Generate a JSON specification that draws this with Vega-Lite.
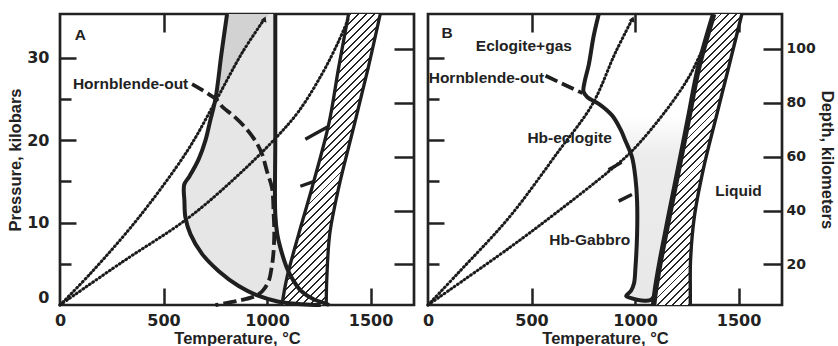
{
  "$schema": "https://vega.github.io/schema/vega-lite/v6.json",
  "padding": {"left": 6, "top": 1, "right": 0, "bottom": 0},
  "bounds": "flush",
  "spacing": 14,
  "background": "white",
  "config": {
    "view": {"stroke": "#222", "strokeWidth": 2.7},
    "axis": {
      "domain": false, "grid": false,
      "labelFont": "DejaVu Sans", "labelFontWeight": "bold", "labelFontSize": 16, "labelColor": "#222",
      "titleFont": "Liberation Sans", "titleFontWeight": "bold", "titleFontSize": 16.5, "titleColor": "#222",
      "tickColor": "#222", "tickWidth": 2.5, "format": "d"
    }
  },
  "datasets": {
    "shade": [
      {"pn":"A","P":0,"L":1260,"R":1300},{"pn":"A","P":0.15,"L":1150,"R":1285},{"pn":"A","P":0.4,"L":1056,"R":1258},
      {"pn":"A","P":0.7,"L":1015,"R":1225},{"pn":"A","P":1.1,"L":960,"R":1201},{"pn":"A","P":1.7,"L":911,"R":1165},
      {"pn":"A","P":2.3,"L":863,"R":1147},{"pn":"A","P":2.9,"L":831,"R":1129},{"pn":"A","P":4.1,"L":767,"R":1104},
      {"pn":"A","P":4.5,"L":751,"R":1096},{"pn":"A","P":6.2,"L":686,"R":1074},{"pn":"A","P":6.9,"L":670,"R":1065},
      {"pn":"A","P":8.6,"L":630,"R":1050},{"pn":"A","P":10.6,"L":606,"R":1041},{"pn":"A","P":11,"L":605,"R":1040},
      {"pn":"A","P":12.6,"L":601,"R":1040},{"pn":"A","P":14.6,"L":600,"R":1040},{"pn":"A","P":15.6,"L":625,"R":1040},
      {"pn":"A","P":17.7,"L":670,"R":1040},{"pn":"A","P":20,"L":703,"R":1040},{"pn":"A","P":22.3,"L":725,"R":1040},
      {"pn":"A","P":25,"L":751,"R":1040},{"pn":"A","P":30.5,"L":780,"R":1040},{"pn":"A","P":35.3,"L":807,"R":1040},
      {"pn":"B","P":0.55,"L":1030,"R":1092},{"pn":"B","P":0.8,"L":985,"R":1094},{"pn":"B","P":1.1,"L":957,"R":1096},
      {"pn":"B","P":1.7,"L":980,"R":1098},{"pn":"B","P":2.6,"L":995,"R":1105},{"pn":"B","P":4.5,"L":1002,"R":1117},
      {"pn":"B","P":8.6,"L":1010,"R":1148},{"pn":"B","P":12.6,"L":1010,"R":1179},{"pn":"B","P":15.4,"L":1002,"R":1201},
      {"pn":"B","P":17.9,"L":986,"R":1221},{"pn":"B","P":19.9,"L":954,"R":1237},{"pn":"B","P":21.3,"L":930,"R":1248},
      {"pn":"B","P":23.0,"L":889,"R":1262}
    ],
    "shadeDark": [
      {"pn":"A","P":24.8,"L":751,"R":751},{"pn":"A","P":27,"L":762,"R":804},
      {"pn":"A","P":30.5,"L":780,"R":885},{"pn":"A","P":35.3,"L":807,"R":1010}
    ],
    "band": [
      {"pn":"A","P":0,"L":1072,"R":1286},{"pn":"A","P":3.3,"L":1096,"R":1289},{"pn":"A","P":8.6,"L":1153,"R":1303},
      {"pn":"A","P":14.2,"L":1217,"R":1346},{"pn":"A","P":21.9,"L":1298,"R":1422},{"pn":"A","P":28.8,"L":1346,"R":1489},
      {"pn":"A","P":35.3,"L":1394,"R":1547},
      {"pn":"B","P":0,"L":1090,"R":1267},{"pn":"B","P":1.7,"L":1098,"R":1267},{"pn":"B","P":5.3,"L":1122,"R":1268},
      {"pn":"B","P":10.6,"L":1163,"R":1286},{"pn":"B","P":16.6,"L":1211,"R":1331},{"pn":"B","P":22.7,"L":1259,"R":1391},
      {"pn":"B","P":28.8,"L":1307,"R":1452},{"pn":"B","P":35.3,"L":1380,"R":1516}
    ],
    "solid": [
      {"pn":"A","id":"sol","s":1,"T":807,"P":35.3},{"pn":"A","id":"sol","s":2,"T":780,"P":30.5},
      {"pn":"A","id":"sol","s":3,"T":751,"P":25},{"pn":"A","id":"sol","s":4,"T":725,"P":22.3},
      {"pn":"A","id":"sol","s":5,"T":703,"P":20},{"pn":"A","id":"sol","s":6,"T":670,"P":17.7},
      {"pn":"A","id":"sol","s":7,"T":625,"P":15.6},{"pn":"A","id":"sol","s":8,"T":600,"P":14.6},
      {"pn":"A","id":"sol","s":9,"T":601,"P":12.6},{"pn":"A","id":"sol","s":10,"T":606,"P":10.6},
      {"pn":"A","id":"sol","s":11,"T":630,"P":8.6},{"pn":"A","id":"sol","s":12,"T":686,"P":6.2},
      {"pn":"A","id":"sol","s":13,"T":767,"P":4.1},{"pn":"A","id":"sol","s":14,"T":863,"P":2.3},
      {"pn":"A","id":"sol","s":15,"T":960,"P":1.1},{"pn":"A","id":"sol","s":16,"T":1056,"P":0.4},
      {"pn":"A","id":"sol","s":17,"T":1170,"P":0.1},{"pn":"A","id":"sol","s":18,"T":1260,"P":0},
      {"pn":"A","id":"vert","s":1,"T":1040,"P":35.3},{"pn":"A","id":"vert","s":2,"T":1040,"P":20},
      {"pn":"A","id":"vert","s":3,"T":1040,"P":11},{"pn":"A","id":"vert","s":4,"T":1050,"P":8.5},
      {"pn":"A","id":"vert","s":5,"T":1065,"P":6.9},{"pn":"A","id":"vert","s":6,"T":1096,"P":4.5},
      {"pn":"A","id":"vert","s":7,"T":1129,"P":2.9},{"pn":"A","id":"vert","s":8,"T":1165,"P":1.7},
      {"pn":"A","id":"vert","s":9,"T":1225,"P":0.7},{"pn":"A","id":"vert","s":10,"T":1285,"P":0.15},
      {"pn":"A","id":"vert","s":11,"T":1300,"P":0},
      {"pn":"A","id":"bl","s":1,"T":1394,"P":35.3},{"pn":"A","id":"bl","s":2,"T":1346,"P":28.8},
      {"pn":"A","id":"bl","s":3,"T":1298,"P":21.9},{"pn":"A","id":"bl","s":4,"T":1217,"P":14.2},
      {"pn":"A","id":"bl","s":5,"T":1153,"P":8.6},{"pn":"A","id":"bl","s":6,"T":1096,"P":3.3},
      {"pn":"A","id":"bl","s":7,"T":1072,"P":0},
      {"pn":"A","id":"br","s":1,"T":1547,"P":35.3},{"pn":"A","id":"br","s":2,"T":1489,"P":28.8},
      {"pn":"A","id":"br","s":3,"T":1422,"P":21.9},{"pn":"A","id":"br","s":4,"T":1346,"P":14.2},
      {"pn":"A","id":"br","s":5,"T":1303,"P":8.6},{"pn":"A","id":"br","s":6,"T":1289,"P":3.3},
      {"pn":"A","id":"br","s":7,"T":1286,"P":0},
      {"pn":"A","id":"t1","s":1,"T":1185,"P":20.1},{"pn":"A","id":"t1","s":2,"T":1292,"P":21.6},
      {"pn":"A","id":"t2","s":1,"T":1161,"P":14.4},{"pn":"A","id":"t2","s":2,"T":1228,"P":15.0},
      {"pn":"B","id":"sol","s":1,"T":825,"P":35.3},{"pn":"B","id":"sol","s":2,"T":800,"P":32.6},
      {"pn":"B","id":"sol","s":3,"T":777,"P":29.2},{"pn":"B","id":"sol","s":4,"T":756,"P":27.0},
      {"pn":"B","id":"sol","s":5,"T":751,"P":25.9},{"pn":"B","id":"sol","s":6,"T":770,"P":25.2},
      {"pn":"B","id":"sol","s":7,"T":825,"P":24.4},{"pn":"B","id":"sol","s":8,"T":889,"P":23.0},
      {"pn":"B","id":"sol","s":9,"T":930,"P":21.3},{"pn":"B","id":"sol","s":10,"T":954,"P":19.9},
      {"pn":"B","id":"sol","s":11,"T":986,"P":17.9},{"pn":"B","id":"sol","s":12,"T":1002,"P":15.4},
      {"pn":"B","id":"sol","s":13,"T":1010,"P":12.6},{"pn":"B","id":"sol","s":14,"T":1010,"P":8.6},
      {"pn":"B","id":"sol","s":15,"T":1002,"P":4.5},{"pn":"B","id":"sol","s":16,"T":995,"P":2.6},
      {"pn":"B","id":"sol","s":17,"T":980,"P":1.7},{"pn":"B","id":"sol","s":18,"T":957,"P":1.1},
      {"pn":"B","id":"sol","s":19,"T":985,"P":0.8},{"pn":"B","id":"sol","s":20,"T":1030,"P":0.55},
      {"pn":"B","id":"sol","s":21,"T":1075,"P":0.6},{"pn":"B","id":"sol","s":22,"T":1095,"P":1.2},
      {"pn":"B","id":"blw","s":1,"T":1380,"P":35.3},{"pn":"B","id":"blw","s":2,"T":1307,"P":28.8},
      {"pn":"B","id":"blw","s":3,"T":1259,"P":22.7},{"pn":"B","id":"blw","s":4,"T":1211,"P":16.6},
      {"pn":"B","id":"blw","s":5,"T":1163,"P":10.6},{"pn":"B","id":"blw","s":6,"T":1122,"P":5.3},
      {"pn":"B","id":"blw","s":7,"T":1098,"P":1.7},{"pn":"B","id":"blw","s":8,"T":1090,"P":0},
      {"pn":"B","id":"br","s":1,"T":1516,"P":35.3},{"pn":"B","id":"br","s":2,"T":1452,"P":28.8},
      {"pn":"B","id":"br","s":3,"T":1391,"P":22.7},{"pn":"B","id":"br","s":4,"T":1331,"P":16.6},
      {"pn":"B","id":"br","s":5,"T":1286,"P":10.6},{"pn":"B","id":"br","s":6,"T":1268,"P":5.3},
      {"pn":"B","id":"br","s":7,"T":1267,"P":1.7},{"pn":"B","id":"br","s":8,"T":1267,"P":0},
      {"pn":"B","id":"t3","s":1,"T":921,"P":12.6},{"pn":"B","id":"t3","s":2,"T":985,"P":13.4},
      {"pn":"B","id":"t4","s":1,"T":872,"P":16.4},{"pn":"B","id":"t4","s":2,"T":935,"P":17.3}
    ],
    "dash": [
      {"pn":"A","id":"hbo","s":1,"T":638,"P":26.8},{"pn":"A","id":"hbo","s":2,"T":751,"P":25.0},
      {"pn":"A","id":"hbo","s":3,"T":790,"P":23.9},{"pn":"A","id":"hbo","s":4,"T":831,"P":23.1},
      {"pn":"A","id":"hbo","s":5,"T":896,"P":21.5},{"pn":"A","id":"hbo","s":6,"T":944,"P":19.9},
      {"pn":"A","id":"hbo","s":7,"T":976,"P":18.3},{"pn":"A","id":"hbo","s":8,"T":1000,"P":16.2},
      {"pn":"A","id":"hbo","s":9,"T":1024,"P":14.2},{"pn":"A","id":"hbo","s":10,"T":1032,"P":11},
      {"pn":"A","id":"hbo","s":11,"T":1035,"P":8.6},{"pn":"A","id":"hbo","s":12,"T":1030,"P":6},
      {"pn":"A","id":"hbo","s":13,"T":1022,"P":4.5},{"pn":"A","id":"hbo","s":14,"T":1008,"P":2.9},
      {"pn":"A","id":"hbo","s":15,"T":978,"P":1.7},{"pn":"A","id":"hbo","s":16,"T":944,"P":1.1},
      {"pn":"A","id":"hbo","s":17,"T":860,"P":0.5},{"pn":"A","id":"hbo","s":18,"T":751,"P":0},
      {"pn":"B","id":"hbo","s":1,"T":568,"P":27.8},{"pn":"B","id":"hbo","s":2,"T":746,"P":25.7}
    ],
    "dot": [
      {"pn":"A","id":"g1","s":1,"T":0,"P":0},{"pn":"A","id":"g1","s":2,"T":150,"P":3.9},
      {"pn":"A","id":"g1","s":3,"T":380,"P":10.6},{"pn":"A","id":"g1","s":4,"T":615,"P":18.7},
      {"pn":"A","id":"g1","s":5,"T":751,"P":24.7},{"pn":"A","id":"g1","s":6,"T":880,"P":30.6},
      {"pn":"A","id":"g1","s":7,"T":985,"P":34.6},
      {"pn":"A","id":"g2","s":1,"T":0,"P":0},{"pn":"A","id":"g2","s":2,"T":300,"P":5.2},
      {"pn":"A","id":"g2","s":3,"T":622,"P":10.6},{"pn":"A","id":"g2","s":4,"T":850,"P":15.5},
      {"pn":"A","id":"g2","s":5,"T":1040,"P":20.2},{"pn":"A","id":"g2","s":6,"T":1153,"P":23.5},
      {"pn":"A","id":"g2","s":7,"T":1265,"P":28},{"pn":"A","id":"g2","s":8,"T":1346,"P":32},
      {"pn":"A","id":"g2","s":9,"T":1394,"P":34.8},
      {"pn":"B","id":"g1","s":1,"T":0,"P":0},{"pn":"B","id":"g1","s":2,"T":150,"P":4.0},
      {"pn":"B","id":"g1","s":3,"T":391,"P":10.6},{"pn":"B","id":"g1","s":4,"T":632,"P":18.7},
      {"pn":"B","id":"g1","s":5,"T":793,"P":24.3},{"pn":"B","id":"g1","s":6,"T":905,"P":30.6},
      {"pn":"B","id":"g1","s":7,"T":985,"P":34.6},
      {"pn":"B","id":"g2","s":1,"T":0,"P":0},{"pn":"B","id":"g2","s":2,"T":391,"P":6.9},
      {"pn":"B","id":"g2","s":3,"T":620,"P":11.2},{"pn":"B","id":"g2","s":4,"T":873,"P":16.2},
      {"pn":"B","id":"g2","s":5,"T":986,"P":18.7},{"pn":"B","id":"g2","s":6,"T":1147,"P":23.5},
      {"pn":"B","id":"g2","s":7,"T":1259,"P":27.6},{"pn":"B","id":"g2","s":8,"T":1323,"P":30.8},
      {"pn":"B","id":"g2","s":9,"T":1340,"P":31.6}
    ],
    "arrows": [
      {"pn":"A","T":988,"P":34.7},{"pn":"B","T":988,"P":34.7}
    ],
    "labels": [
      {"pn":"A","T":98,"P":32.8,"txt":"A"},
      {"pn":"A","T":341,"P":26.8,"txt":"Hornblende-out"},
      {"pn":"B","T":92,"P":33.0,"txt":"B"},
      {"pn":"B","T":463,"P":31.4,"txt":"Eclogite+gas"},
      {"pn":"B","T":282,"P":27.55,"txt":"Hornblende-out"},
      {"pn":"B","T":684,"P":20.3,"txt":"Hb-eclogite"},
      {"pn":"B","T":1500,"P":13.8,"txt":"Liquid"},
      {"pn":"B","T":781,"P":7.85,"txt":"Hb-Gabbro"}
    ],
    "depth": [
      {"T":0,"depth":20},{"T":0,"depth":40},{"T":0,"depth":60},{"T":0,"depth":80},{"T":0,"depth":100}
    ]
  },
  "hconcat": [
    {
      "width": 354, "height": 291,
      "resolve": {"scale": {"y": "independent"}, "axis": {"x": "independent", "y": "independent"}},
      "layer": [
        {
          "data": {"name": "shade"},
          "transform": [{"filter": "datum.pn === 'A'"}],
          "mark": {"type": "area", "orient": "horizontal", "color": "#e6e6e6", "opacity": 1},
          "encoding": {
            "y": {"field": "P", "type": "quantitative", "scale": {"domain": [0, 35.3], "nice": false, "zero": false},
                  "axis": {"orient": "left", "values": [0, 10, 20, 30], "ticks": false, "labelPadding": 11, "labelFlush": true, "title": "Pressure, kilobars", "titlePadding": 3}},
            "x": {"field": "L", "type": "quantitative", "scale": {"domain": [0, 1710], "nice": false, "zero": false},
                  "axis": {"orient": "bottom", "values": [0, 500, 1000, 1500], "ticks": false, "labelPadding": 7, "labelFlush": false, "title": "Temperature, °C", "titlePadding": 2}},
            "x2": {"field": "R"}
          }
        },
        {
          "data": {"name": "shadeDark"},
          "mark": {"type": "area", "orient": "horizontal", "color": "#d2d2d2", "opacity": 1},
          "encoding": {
            "y": {"field": "P", "type": "quantitative", "scale": {"domain": [0, 35.3], "nice": false, "zero": false},
                  "axis": {"orient": "left", "values": [5, 10, 15, 20, 25, 30], "labels": false, "title": null, "minExtent": 0, "maxExtent": 0,
                           "tickSize": {"condition": {"test": "datum.value % 10 === 0", "value": -16}, "value": -11}}},
            "x": {"field": "L", "type": "quantitative", "scale": {"domain": [0, 1710], "nice": false, "zero": false},
                  "axis": {"orient": "top", "values": [500, 1000, 1500], "labels": false, "title": null, "tickSize": -18, "minExtent": 0, "maxExtent": 0}},
            "x2": {"field": "R"}
          }
        },
        {
          "data": {"name": "band"},
          "transform": [{"filter": "datum.pn === 'A'"}],
          "mark": {"type": "area", "orient": "horizontal", "interpolate": "catmull-rom", "opacity": 1, "stroke": null,
            "fill": {
              "gradient": "linear", "x1": 0, "y1": 0, "x2": 0.406, "y2": 1.201,
              "stops": [
                {"offset":0,"color":"#fff"},{"offset":0.015,"color":"#fff"},{"offset":0.015,"color":"#262626"},{"offset":0.02,"color":"#262626"},
                {"offset":0.02,"color":"#fff"},{"offset":0.035,"color":"#fff"},{"offset":0.035,"color":"#262626"},{"offset":0.04,"color":"#262626"},
                {"offset":0.04,"color":"#fff"},{"offset":0.055,"color":"#fff"},{"offset":0.055,"color":"#262626"},{"offset":0.06,"color":"#262626"},
                {"offset":0.06,"color":"#fff"},{"offset":0.075,"color":"#fff"},{"offset":0.075,"color":"#262626"},{"offset":0.08,"color":"#262626"},
                {"offset":0.08,"color":"#fff"},{"offset":0.095,"color":"#fff"},{"offset":0.095,"color":"#262626"},{"offset":0.1,"color":"#262626"},
                {"offset":0.1,"color":"#fff"},{"offset":0.115,"color":"#fff"},{"offset":0.115,"color":"#262626"},{"offset":0.12,"color":"#262626"},
                {"offset":0.12,"color":"#fff"},{"offset":0.135,"color":"#fff"},{"offset":0.135,"color":"#262626"},{"offset":0.14,"color":"#262626"},
                {"offset":0.14,"color":"#fff"},{"offset":0.155,"color":"#fff"},{"offset":0.155,"color":"#262626"},{"offset":0.16,"color":"#262626"},
                {"offset":0.16,"color":"#fff"},{"offset":0.175,"color":"#fff"},{"offset":0.175,"color":"#262626"},{"offset":0.18,"color":"#262626"},
                {"offset":0.18,"color":"#fff"},{"offset":0.195,"color":"#fff"},{"offset":0.195,"color":"#262626"},{"offset":0.2,"color":"#262626"},
                {"offset":0.2,"color":"#fff"},{"offset":0.215,"color":"#fff"},{"offset":0.215,"color":"#262626"},{"offset":0.22,"color":"#262626"},
                {"offset":0.22,"color":"#fff"},{"offset":0.235,"color":"#fff"},{"offset":0.235,"color":"#262626"},{"offset":0.24,"color":"#262626"},
                {"offset":0.24,"color":"#fff"},{"offset":0.255,"color":"#fff"},{"offset":0.255,"color":"#262626"},{"offset":0.26,"color":"#262626"},
                {"offset":0.26,"color":"#fff"},{"offset":0.275,"color":"#fff"},{"offset":0.275,"color":"#262626"},{"offset":0.28,"color":"#262626"},
                {"offset":0.28,"color":"#fff"},{"offset":0.295,"color":"#fff"},{"offset":0.295,"color":"#262626"},{"offset":0.3,"color":"#262626"},
                {"offset":0.3,"color":"#fff"},{"offset":0.315,"color":"#fff"},{"offset":0.315,"color":"#262626"},{"offset":0.32,"color":"#262626"},
                {"offset":0.32,"color":"#fff"},{"offset":0.335,"color":"#fff"},{"offset":0.335,"color":"#262626"},{"offset":0.34,"color":"#262626"},
                {"offset":0.34,"color":"#fff"},{"offset":0.355,"color":"#fff"},{"offset":0.355,"color":"#262626"},{"offset":0.36,"color":"#262626"},
                {"offset":0.36,"color":"#fff"},{"offset":0.375,"color":"#fff"},{"offset":0.375,"color":"#262626"},{"offset":0.38,"color":"#262626"},
                {"offset":0.38,"color":"#fff"},{"offset":0.395,"color":"#fff"},{"offset":0.395,"color":"#262626"},{"offset":0.4,"color":"#262626"},
                {"offset":0.4,"color":"#fff"},{"offset":0.415,"color":"#fff"},{"offset":0.415,"color":"#262626"},{"offset":0.42,"color":"#262626"},
                {"offset":0.42,"color":"#fff"},{"offset":0.435,"color":"#fff"},{"offset":0.435,"color":"#262626"},{"offset":0.44,"color":"#262626"},
                {"offset":0.44,"color":"#fff"},{"offset":0.455,"color":"#fff"},{"offset":0.455,"color":"#262626"},{"offset":0.46,"color":"#262626"},
                {"offset":0.46,"color":"#fff"},{"offset":0.475,"color":"#fff"},{"offset":0.475,"color":"#262626"},{"offset":0.48,"color":"#262626"},
                {"offset":0.48,"color":"#fff"},{"offset":0.495,"color":"#fff"},{"offset":0.495,"color":"#262626"},{"offset":0.5,"color":"#262626"},
                {"offset":0.5,"color":"#fff"},{"offset":0.515,"color":"#fff"},{"offset":0.515,"color":"#262626"},{"offset":0.52,"color":"#262626"},
                {"offset":0.52,"color":"#fff"},{"offset":0.535,"color":"#fff"},{"offset":0.535,"color":"#262626"},{"offset":0.54,"color":"#262626"},
                {"offset":0.54,"color":"#fff"},{"offset":0.555,"color":"#fff"},{"offset":0.555,"color":"#262626"},{"offset":0.56,"color":"#262626"},
                {"offset":0.56,"color":"#fff"},{"offset":0.575,"color":"#fff"},{"offset":0.575,"color":"#262626"},{"offset":0.58,"color":"#262626"},
                {"offset":0.58,"color":"#fff"},{"offset":0.595,"color":"#fff"},{"offset":0.595,"color":"#262626"},{"offset":0.6,"color":"#262626"},
                {"offset":0.6,"color":"#fff"},{"offset":0.615,"color":"#fff"},{"offset":0.615,"color":"#262626"},{"offset":0.62,"color":"#262626"},
                {"offset":0.62,"color":"#fff"},{"offset":0.635,"color":"#fff"},{"offset":0.635,"color":"#262626"},{"offset":0.64,"color":"#262626"},
                {"offset":0.64,"color":"#fff"},{"offset":0.655,"color":"#fff"},{"offset":0.655,"color":"#262626"},{"offset":0.66,"color":"#262626"},
                {"offset":0.66,"color":"#fff"},{"offset":0.675,"color":"#fff"},{"offset":0.675,"color":"#262626"},{"offset":0.68,"color":"#262626"},
                {"offset":0.68,"color":"#fff"},{"offset":0.695,"color":"#fff"},{"offset":0.695,"color":"#262626"},{"offset":0.7,"color":"#262626"},
                {"offset":0.7,"color":"#fff"},{"offset":0.715,"color":"#fff"},{"offset":0.715,"color":"#262626"},{"offset":0.72,"color":"#262626"},
                {"offset":0.72,"color":"#fff"},{"offset":0.735,"color":"#fff"},{"offset":0.735,"color":"#262626"},{"offset":0.74,"color":"#262626"},
                {"offset":0.74,"color":"#fff"},{"offset":0.755,"color":"#fff"},{"offset":0.755,"color":"#262626"},{"offset":0.76,"color":"#262626"},
                {"offset":0.76,"color":"#fff"},{"offset":0.775,"color":"#fff"},{"offset":0.775,"color":"#262626"},{"offset":0.78,"color":"#262626"},
                {"offset":0.78,"color":"#fff"},{"offset":0.795,"color":"#fff"},{"offset":0.795,"color":"#262626"},{"offset":0.8,"color":"#262626"},
                {"offset":0.8,"color":"#fff"},{"offset":0.815,"color":"#fff"},{"offset":0.815,"color":"#262626"},{"offset":0.82,"color":"#262626"},
                {"offset":0.82,"color":"#fff"},{"offset":0.835,"color":"#fff"},{"offset":0.835,"color":"#262626"},{"offset":0.84,"color":"#262626"},
                {"offset":0.84,"color":"#fff"},{"offset":0.855,"color":"#fff"},{"offset":0.855,"color":"#262626"},{"offset":0.86,"color":"#262626"},
                {"offset":0.86,"color":"#fff"},{"offset":0.875,"color":"#fff"},{"offset":0.875,"color":"#262626"},{"offset":0.88,"color":"#262626"},
                {"offset":0.88,"color":"#fff"},{"offset":0.895,"color":"#fff"},{"offset":0.895,"color":"#262626"},{"offset":0.9,"color":"#262626"},
                {"offset":0.9,"color":"#fff"},{"offset":0.915,"color":"#fff"},{"offset":0.915,"color":"#262626"},{"offset":0.92,"color":"#262626"},
                {"offset":0.92,"color":"#fff"},{"offset":0.935,"color":"#fff"},{"offset":0.935,"color":"#262626"},{"offset":0.94,"color":"#262626"},
                {"offset":0.94,"color":"#fff"},{"offset":0.955,"color":"#fff"},{"offset":0.955,"color":"#262626"},{"offset":0.96,"color":"#262626"},
                {"offset":0.96,"color":"#fff"},{"offset":0.975,"color":"#fff"},{"offset":0.975,"color":"#262626"},{"offset":0.98,"color":"#262626"},
                {"offset":0.98,"color":"#fff"},{"offset":0.995,"color":"#fff"},{"offset":0.995,"color":"#262626"},{"offset":1,"color":"#262626"}
              ]
            }
          },
          "encoding": {
            "y": {"field": "P", "type": "quantitative", "scale": {"domain": [0, 35.3], "nice": false, "zero": false}, "axis": null},
            "x": {"field": "L", "type": "quantitative", "scale": {"domain": [0, 1710], "nice": false, "zero": false},
                  "axis": {"orient": "bottom", "values": [500, 1000, 1500], "labels": false, "title": null, "tickSize": -17, "minExtent": 0, "maxExtent": 0}},
            "x2": {"field": "R"}
          }
        },
        {
          "data": {"name": "dot"},
          "transform": [{"filter": "datum.pn === 'A'"}],
          "mark": {"type": "line", "interpolate": "catmull-rom", "color": "#1a1a1a", "strokeWidth": 3, "strokeDash": [0.9, 3.1], "strokeCap": "round"},
          "encoding": {
            "x": {"field": "T", "type": "quantitative", "scale": {"domain": [0, 1710], "nice": false, "zero": false}, "axis": null},
            "y": {"field": "P", "type": "quantitative", "scale": {"domain": [0, 35.3], "nice": false, "zero": false}, "axis": null},
            "detail": {"field": "id"},
            "order": {"field": "s", "type": "quantitative"}
          }
        },
        {
          "data": {"name": "solid"},
          "transform": [{"filter": "datum.pn === 'A' && (datum.id === 'sol' || datum.id === 'vert')"}],
          "mark": {"type": "line", "interpolate": "catmull-rom", "color": "#1f1f1f", "strokeWidth": 4, "strokeCap": "butt"},
          "encoding": {
            "x": {"field": "T", "type": "quantitative", "scale": {"domain": [0, 1710], "nice": false, "zero": false}, "axis": null},
            "y": {"field": "P", "type": "quantitative", "scale": {"domain": [0, 35.3], "nice": false, "zero": false}, "axis": null},
            "detail": {"field": "id"},
            "order": {"field": "s", "type": "quantitative"}
          }
        },
        {
          "data": {"name": "solid"},
          "transform": [{"filter": "datum.pn === 'A' && datum.id !== 'sol' && datum.id !== 'vert'"}],
          "mark": {"type": "line", "interpolate": "catmull-rom", "color": "#1f1f1f", "strokeWidth": 3.3, "strokeCap": "butt"},
          "encoding": {
            "x": {"field": "T", "type": "quantitative", "scale": {"domain": [0, 1710], "nice": false, "zero": false}, "axis": null},
            "y": {"field": "P", "type": "quantitative", "scale": {"domain": [0, 35.3], "nice": false, "zero": false}, "axis": null},
            "detail": {"field": "id"},
            "order": {"field": "s", "type": "quantitative"}
          }
        },
        {
          "data": {"name": "dash"},
          "transform": [{"filter": "datum.pn === 'A'"}],
          "mark": {"type": "line", "interpolate": "catmull-rom", "color": "#1f1f1f", "strokeWidth": 3.8, "strokeDash": [13, 5]},
          "encoding": {
            "x": {"field": "T", "type": "quantitative", "scale": {"domain": [0, 1710], "nice": false, "zero": false}, "axis": null},
            "y": {"field": "P", "type": "quantitative", "scale": {"domain": [0, 35.3], "nice": false, "zero": false}, "axis": null},
            "detail": {"field": "id"},
            "order": {"field": "s", "type": "quantitative"}
          }
        },
        {
          "data": {"name": "arrows"},
          "transform": [{"filter": "datum.pn === 'A'"}],
          "mark": {"type": "point", "shape": "triangle-up", "filled": true, "size": 40, "angle": 22, "color": "#1f1f1f", "opacity": 1},
          "encoding": {
            "x": {"field": "T", "type": "quantitative", "scale": {"domain": [0, 1710], "nice": false, "zero": false}, "axis": null},
            "y": {"field": "P", "type": "quantitative", "scale": {"domain": [0, 35.3], "nice": false, "zero": false}, "axis": null}
          }
        },
        {
          "data": {"name": "labels"},
          "transform": [{"filter": "datum.pn === 'A'"}],
          "mark": {"type": "text", "font": "Liberation Sans", "fontWeight": "bold", "fontSize": 15.5, "color": "#222", "align": "center", "baseline": "middle"},
          "encoding": {
            "x": {"field": "T", "type": "quantitative", "scale": {"domain": [0, 1710], "nice": false, "zero": false}, "axis": null},
            "y": {"field": "P", "type": "quantitative", "scale": {"domain": [0, 35.3], "nice": false, "zero": false}, "axis": null},
            "text": {"field": "txt"}
          }
        },
        {
          "data": {"name": "depth"},
          "mark": {"type": "point", "opacity": 0},
          "encoding": {
            "x": {"field": "T", "type": "quantitative", "scale": {"domain": [0, 1710], "nice": false, "zero": false}, "axis": null},
            "y": {"field": "depth", "type": "quantitative", "scale": {"domain": [4.9, 113], "nice": false, "zero": false},
                  "axis": {"orient": "right", "values": [20, 40, 60, 80, 100], "labels": false, "title": null, "tickSize": -20, "minExtent": 0, "maxExtent": 0}}
          }
        }
      ]
    },
    {
      "width": 354, "height": 291,
      "resolve": {"scale": {"y": "independent"}, "axis": {"x": "independent", "y": "independent"}},
      "layer": [
        {
          "data": {"name": "shade"},
          "transform": [{"filter": "datum.pn === 'B'"}],
          "mark": {"type": "area", "orient": "horizontal", "opacity": 1,
            "fill": {"gradient": "linear", "x1": 0, "y1": 0, "x2": 0, "y2": 1,
                     "stops": [{"offset": 0, "color": "#ffffff"}, {"offset": 0.22, "color": "#ececec"}, {"offset": 1, "color": "#e8e8e8"}]}},
          "encoding": {
            "y": {"field": "P", "type": "quantitative", "scale": {"domain": [0, 35.3], "nice": false, "zero": false},
                  "axis": {"orient": "left", "values": [5, 10, 15, 20, 25, 30], "labels": false, "title": null, "minExtent": 0, "maxExtent": 0,
                           "tickSize": {"condition": {"test": "datum.value % 10 === 0", "value": -16}, "value": -11}}},
            "x": {"field": "L", "type": "quantitative", "scale": {"domain": [0, 1710], "nice": false, "zero": false},
                  "axis": {"orient": "bottom", "values": [0, 500, 1000, 1500], "ticks": false, "labelPadding": 7, "labelFlush": false, "title": "Temperature, °C", "titlePadding": 2}},
            "x2": {"field": "R"}
          }
        },
        {
          "data": {"name": "band"},
          "transform": [{"filter": "datum.pn === 'B'"}],
          "mark": {"type": "area", "orient": "horizontal", "interpolate": "catmull-rom", "opacity": 1, "stroke": null,
            "fill": {
              "gradient": "linear", "x1": 0, "y1": 0, "x2": 0.362, "y2": 1.194,
              "stops": [
                {"offset":0,"color":"#fff"},{"offset":0.015,"color":"#fff"},{"offset":0.015,"color":"#262626"},{"offset":0.02,"color":"#262626"},
                {"offset":0.02,"color":"#fff"},{"offset":0.035,"color":"#fff"},{"offset":0.035,"color":"#262626"},{"offset":0.04,"color":"#262626"},
                {"offset":0.04,"color":"#fff"},{"offset":0.055,"color":"#fff"},{"offset":0.055,"color":"#262626"},{"offset":0.06,"color":"#262626"},
                {"offset":0.06,"color":"#fff"},{"offset":0.075,"color":"#fff"},{"offset":0.075,"color":"#262626"},{"offset":0.08,"color":"#262626"},
                {"offset":0.08,"color":"#fff"},{"offset":0.095,"color":"#fff"},{"offset":0.095,"color":"#262626"},{"offset":0.1,"color":"#262626"},
                {"offset":0.1,"color":"#fff"},{"offset":0.115,"color":"#fff"},{"offset":0.115,"color":"#262626"},{"offset":0.12,"color":"#262626"},
                {"offset":0.12,"color":"#fff"},{"offset":0.135,"color":"#fff"},{"offset":0.135,"color":"#262626"},{"offset":0.14,"color":"#262626"},
                {"offset":0.14,"color":"#fff"},{"offset":0.155,"color":"#fff"},{"offset":0.155,"color":"#262626"},{"offset":0.16,"color":"#262626"},
                {"offset":0.16,"color":"#fff"},{"offset":0.175,"color":"#fff"},{"offset":0.175,"color":"#262626"},{"offset":0.18,"color":"#262626"},
                {"offset":0.18,"color":"#fff"},{"offset":0.195,"color":"#fff"},{"offset":0.195,"color":"#262626"},{"offset":0.2,"color":"#262626"},
                {"offset":0.2,"color":"#fff"},{"offset":0.215,"color":"#fff"},{"offset":0.215,"color":"#262626"},{"offset":0.22,"color":"#262626"},
                {"offset":0.22,"color":"#fff"},{"offset":0.235,"color":"#fff"},{"offset":0.235,"color":"#262626"},{"offset":0.24,"color":"#262626"},
                {"offset":0.24,"color":"#fff"},{"offset":0.255,"color":"#fff"},{"offset":0.255,"color":"#262626"},{"offset":0.26,"color":"#262626"},
                {"offset":0.26,"color":"#fff"},{"offset":0.275,"color":"#fff"},{"offset":0.275,"color":"#262626"},{"offset":0.28,"color":"#262626"},
                {"offset":0.28,"color":"#fff"},{"offset":0.295,"color":"#fff"},{"offset":0.295,"color":"#262626"},{"offset":0.3,"color":"#262626"},
                {"offset":0.3,"color":"#fff"},{"offset":0.315,"color":"#fff"},{"offset":0.315,"color":"#262626"},{"offset":0.32,"color":"#262626"},
                {"offset":0.32,"color":"#fff"},{"offset":0.335,"color":"#fff"},{"offset":0.335,"color":"#262626"},{"offset":0.34,"color":"#262626"},
                {"offset":0.34,"color":"#fff"},{"offset":0.355,"color":"#fff"},{"offset":0.355,"color":"#262626"},{"offset":0.36,"color":"#262626"},
                {"offset":0.36,"color":"#fff"},{"offset":0.375,"color":"#fff"},{"offset":0.375,"color":"#262626"},{"offset":0.38,"color":"#262626"},
                {"offset":0.38,"color":"#fff"},{"offset":0.395,"color":"#fff"},{"offset":0.395,"color":"#262626"},{"offset":0.4,"color":"#262626"},
                {"offset":0.4,"color":"#fff"},{"offset":0.415,"color":"#fff"},{"offset":0.415,"color":"#262626"},{"offset":0.42,"color":"#262626"},
                {"offset":0.42,"color":"#fff"},{"offset":0.435,"color":"#fff"},{"offset":0.435,"color":"#262626"},{"offset":0.44,"color":"#262626"},
                {"offset":0.44,"color":"#fff"},{"offset":0.455,"color":"#fff"},{"offset":0.455,"color":"#262626"},{"offset":0.46,"color":"#262626"},
                {"offset":0.46,"color":"#fff"},{"offset":0.475,"color":"#fff"},{"offset":0.475,"color":"#262626"},{"offset":0.48,"color":"#262626"},
                {"offset":0.48,"color":"#fff"},{"offset":0.495,"color":"#fff"},{"offset":0.495,"color":"#262626"},{"offset":0.5,"color":"#262626"},
                {"offset":0.5,"color":"#fff"},{"offset":0.515,"color":"#fff"},{"offset":0.515,"color":"#262626"},{"offset":0.52,"color":"#262626"},
                {"offset":0.52,"color":"#fff"},{"offset":0.535,"color":"#fff"},{"offset":0.535,"color":"#262626"},{"offset":0.54,"color":"#262626"},
                {"offset":0.54,"color":"#fff"},{"offset":0.555,"color":"#fff"},{"offset":0.555,"color":"#262626"},{"offset":0.56,"color":"#262626"},
                {"offset":0.56,"color":"#fff"},{"offset":0.575,"color":"#fff"},{"offset":0.575,"color":"#262626"},{"offset":0.58,"color":"#262626"},
                {"offset":0.58,"color":"#fff"},{"offset":0.595,"color":"#fff"},{"offset":0.595,"color":"#262626"},{"offset":0.6,"color":"#262626"},
                {"offset":0.6,"color":"#fff"},{"offset":0.615,"color":"#fff"},{"offset":0.615,"color":"#262626"},{"offset":0.62,"color":"#262626"},
                {"offset":0.62,"color":"#fff"},{"offset":0.635,"color":"#fff"},{"offset":0.635,"color":"#262626"},{"offset":0.64,"color":"#262626"},
                {"offset":0.64,"color":"#fff"},{"offset":0.655,"color":"#fff"},{"offset":0.655,"color":"#262626"},{"offset":0.66,"color":"#262626"},
                {"offset":0.66,"color":"#fff"},{"offset":0.675,"color":"#fff"},{"offset":0.675,"color":"#262626"},{"offset":0.68,"color":"#262626"},
                {"offset":0.68,"color":"#fff"},{"offset":0.695,"color":"#fff"},{"offset":0.695,"color":"#262626"},{"offset":0.7,"color":"#262626"},
                {"offset":0.7,"color":"#fff"},{"offset":0.715,"color":"#fff"},{"offset":0.715,"color":"#262626"},{"offset":0.72,"color":"#262626"},
                {"offset":0.72,"color":"#fff"},{"offset":0.735,"color":"#fff"},{"offset":0.735,"color":"#262626"},{"offset":0.74,"color":"#262626"},
                {"offset":0.74,"color":"#fff"},{"offset":0.755,"color":"#fff"},{"offset":0.755,"color":"#262626"},{"offset":0.76,"color":"#262626"},
                {"offset":0.76,"color":"#fff"},{"offset":0.775,"color":"#fff"},{"offset":0.775,"color":"#262626"},{"offset":0.78,"color":"#262626"},
                {"offset":0.78,"color":"#fff"},{"offset":0.795,"color":"#fff"},{"offset":0.795,"color":"#262626"},{"offset":0.8,"color":"#262626"},
                {"offset":0.8,"color":"#fff"},{"offset":0.815,"color":"#fff"},{"offset":0.815,"color":"#262626"},{"offset":0.82,"color":"#262626"},
                {"offset":0.82,"color":"#fff"},{"offset":0.835,"color":"#fff"},{"offset":0.835,"color":"#262626"},{"offset":0.84,"color":"#262626"},
                {"offset":0.84,"color":"#fff"},{"offset":0.855,"color":"#fff"},{"offset":0.855,"color":"#262626"},{"offset":0.86,"color":"#262626"},
                {"offset":0.86,"color":"#fff"},{"offset":0.875,"color":"#fff"},{"offset":0.875,"color":"#262626"},{"offset":0.88,"color":"#262626"},
                {"offset":0.88,"color":"#fff"},{"offset":0.895,"color":"#fff"},{"offset":0.895,"color":"#262626"},{"offset":0.9,"color":"#262626"},
                {"offset":0.9,"color":"#fff"},{"offset":0.915,"color":"#fff"},{"offset":0.915,"color":"#262626"},{"offset":0.92,"color":"#262626"},
                {"offset":0.92,"color":"#fff"},{"offset":0.935,"color":"#fff"},{"offset":0.935,"color":"#262626"},{"offset":0.94,"color":"#262626"},
                {"offset":0.94,"color":"#fff"},{"offset":0.955,"color":"#fff"},{"offset":0.955,"color":"#262626"},{"offset":0.96,"color":"#262626"},
                {"offset":0.96,"color":"#fff"},{"offset":0.975,"color":"#fff"},{"offset":0.975,"color":"#262626"},{"offset":0.98,"color":"#262626"},
                {"offset":0.98,"color":"#fff"},{"offset":0.995,"color":"#fff"},{"offset":0.995,"color":"#262626"},{"offset":1,"color":"#262626"}
              ]
            }
          },
          "encoding": {
            "y": {"field": "P", "type": "quantitative", "scale": {"domain": [0, 35.3], "nice": false, "zero": false}, "axis": null},
            "x": {"field": "L", "type": "quantitative", "scale": {"domain": [0, 1710], "nice": false, "zero": false},
                  "axis": {"orient": "bottom", "values": [500, 1000, 1500], "labels": false, "title": null, "tickSize": -17, "minExtent": 0, "maxExtent": 0}},
            "x2": {"field": "R"}
          }
        },
        {
          "data": {"name": "dot"},
          "transform": [{"filter": "datum.pn === 'B'"}],
          "mark": {"type": "line", "interpolate": "catmull-rom", "color": "#1a1a1a", "strokeWidth": 3, "strokeDash": [0.9, 3.1], "strokeCap": "round"},
          "encoding": {
            "x": {"field": "T", "type": "quantitative", "scale": {"domain": [0, 1710], "nice": false, "zero": false}, "axis": null},
            "y": {"field": "P", "type": "quantitative", "scale": {"domain": [0, 35.3], "nice": false, "zero": false}, "axis": null},
            "detail": {"field": "id"},
            "order": {"field": "s", "type": "quantitative"}
          }
        },
        {
          "data": {"name": "solid"},
          "transform": [{"filter": "datum.pn === 'B' && datum.id === 'sol'"}],
          "mark": {"type": "line", "interpolate": "catmull-rom", "color": "#1f1f1f", "strokeWidth": 4, "strokeCap": "butt"},
          "encoding": {
            "x": {"field": "T", "type": "quantitative", "scale": {"domain": [0, 1710], "nice": false, "zero": false},
                  "axis": {"orient": "top", "values": [500, 1000, 1500], "labels": false, "title": null, "tickSize": -18, "minExtent": 0, "maxExtent": 0}},
            "y": {"field": "P", "type": "quantitative", "scale": {"domain": [0, 35.3], "nice": false, "zero": false}, "axis": null},
            "detail": {"field": "id"},
            "order": {"field": "s", "type": "quantitative"}
          }
        },
        {
          "data": {"name": "solid"},
          "transform": [{"filter": "datum.pn === 'B' && datum.id === 'blw'"}],
          "mark": {"type": "line", "interpolate": "catmull-rom", "color": "#1f1f1f", "strokeWidth": 5.5, "strokeCap": "butt"},
          "encoding": {
            "x": {"field": "T", "type": "quantitative", "scale": {"domain": [0, 1710], "nice": false, "zero": false}, "axis": null},
            "y": {"field": "P", "type": "quantitative", "scale": {"domain": [0, 35.3], "nice": false, "zero": false}, "axis": null},
            "detail": {"field": "id"},
            "order": {"field": "s", "type": "quantitative"}
          }
        },
        {
          "data": {"name": "solid"},
          "transform": [{"filter": "datum.pn === 'B' && datum.id !== 'sol' && datum.id !== 'blw'"}],
          "mark": {"type": "line", "interpolate": "catmull-rom", "color": "#1f1f1f", "strokeWidth": 3.4, "strokeCap": "butt"},
          "encoding": {
            "x": {"field": "T", "type": "quantitative", "scale": {"domain": [0, 1710], "nice": false, "zero": false}, "axis": null},
            "y": {"field": "P", "type": "quantitative", "scale": {"domain": [0, 35.3], "nice": false, "zero": false}, "axis": null},
            "detail": {"field": "id"},
            "order": {"field": "s", "type": "quantitative"}
          }
        },
        {
          "data": {"name": "dash"},
          "transform": [{"filter": "datum.pn === 'B'"}],
          "mark": {"type": "line", "interpolate": "linear", "color": "#1f1f1f", "strokeWidth": 3.8, "strokeDash": [13, 5]},
          "encoding": {
            "x": {"field": "T", "type": "quantitative", "scale": {"domain": [0, 1710], "nice": false, "zero": false}, "axis": null},
            "y": {"field": "P", "type": "quantitative", "scale": {"domain": [0, 35.3], "nice": false, "zero": false}, "axis": null},
            "detail": {"field": "id"},
            "order": {"field": "s", "type": "quantitative"}
          }
        },
        {
          "data": {"name": "arrows"},
          "transform": [{"filter": "datum.pn === 'B'"}],
          "mark": {"type": "point", "shape": "triangle-up", "filled": true, "size": 40, "angle": 22, "color": "#1f1f1f", "opacity": 1},
          "encoding": {
            "x": {"field": "T", "type": "quantitative", "scale": {"domain": [0, 1710], "nice": false, "zero": false}, "axis": null},
            "y": {"field": "P", "type": "quantitative", "scale": {"domain": [0, 35.3], "nice": false, "zero": false}, "axis": null}
          }
        },
        {
          "data": {"name": "labels"},
          "transform": [{"filter": "datum.pn === 'B'"}],
          "mark": {"type": "text", "font": "Liberation Sans", "fontWeight": "bold", "fontSize": 15.5, "color": "#222", "align": "center", "baseline": "middle"},
          "encoding": {
            "x": {"field": "T", "type": "quantitative", "scale": {"domain": [0, 1710], "nice": false, "zero": false}, "axis": null},
            "y": {"field": "P", "type": "quantitative", "scale": {"domain": [0, 35.3], "nice": false, "zero": false}, "axis": null},
            "text": {"field": "txt"}
          }
        },
        {
          "data": {"name": "depth"},
          "mark": {"type": "point", "opacity": 0},
          "encoding": {
            "x": {"field": "T", "type": "quantitative", "scale": {"domain": [0, 1710], "nice": false, "zero": false}, "axis": null},
            "y": {"field": "depth", "type": "quantitative", "scale": {"domain": [4.9, 113], "nice": false, "zero": false},
                  "axis": {"orient": "right", "values": [20, 40, 60, 80, 100], "labels": false, "title": null, "tickSize": -19, "minExtent": 0, "maxExtent": 0}}
          }
        },
        {
          "data": {"name": "depth"},
          "mark": {"type": "point", "opacity": 0},
          "encoding": {
            "x": {"field": "T", "type": "quantitative", "scale": {"domain": [0, 1710], "nice": false, "zero": false}, "axis": null},
            "y": {"field": "depth", "type": "quantitative", "scale": {"domain": [4.9, 113], "nice": false, "zero": false},
                  "axis": {"orient": "right", "values": [20, 40, 60, 80, 100], "ticks": false, "labelPadding": 4, "labelFontSize": 14, "title": "Depth, kilometers", "titlePadding": 3}}
          }
        }
      ]
    }
  ]
}
